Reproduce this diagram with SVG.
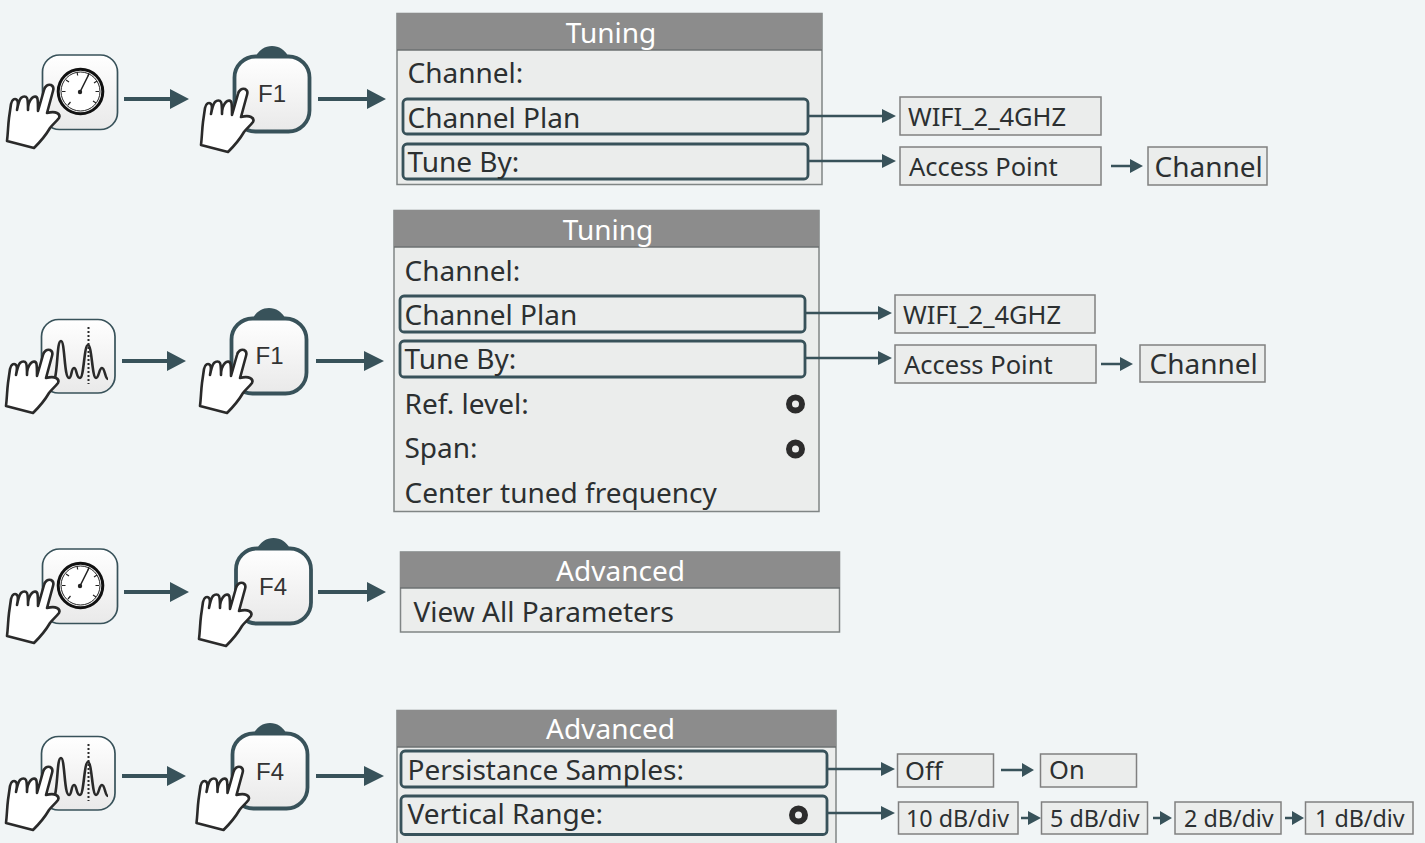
<svg xmlns="http://www.w3.org/2000/svg" width="1425" height="843" viewBox="0 0 1425 843">
<style>
text{font-family:"Noto Sans","Open Sans",sans-serif;fill:#2c3031}
.m{font-size:28px}
.h{font-size:28px;fill:#fff;text-anchor:middle}
.b{font-size:25.500px}
.d{font-size:23.300px}
.fk{font-family:"Liberation Sans",Arial,sans-serif;font-size:24px;text-anchor:middle;fill:#333}
.menu{fill:#ebedec;stroke:#808585;stroke-width:1.500}
.head{fill:#8c8c8c}
.hl{stroke:#6c7072;stroke-width:1.500}
.sel{fill:none;stroke:#38525a;stroke-width:2.800}
.box{fill:#ebedec;stroke:#808080;stroke-width:1.500}
.c{fill:none;stroke:#38525a;stroke-width:2.500}
.c4{fill:none;stroke:#38525a;stroke-width:4}
.ah{fill:#38525a}
.radio{fill:none;stroke:#2c2c2c;stroke-width:6}
.hand{fill:#fff;stroke:#2a2a2a;stroke-width:2.600;stroke-linejoin:round;stroke-linecap:round}
.icon{fill:url(#g);stroke:#38525a;stroke-width:1.700}
.key{fill:url(#g);stroke:#38525a;stroke-width:3.800}
</style>
<defs>
<linearGradient id="g" x1="0" y1="0" x2="0" y2="1"><stop offset="0" stop-color="#fff"/><stop offset="1" stop-color="#e9e9e9"/></linearGradient>
<path id="handp" class="hand" d="M7 141C8 133 8 126 9 118L11 104C12 99 15 98 17 100C18 101 18 105 17 110C18 105 19 100 21 98C23 96 26 96 27 98C28 100 28 105 28 110C28 105 30 100 32 98C34 96 37 96 37.500 99C38 102 38 106 38 111L44 90C45 86 48 84 51 85C53 86 54 88 53 91L47 113C51 112 55 112 57 113C59 114 60 116 59 118C56 122 52 125 50 128C46 135 40 142 34 148Z"/>
<g id="gauge">
<rect class="icon" x="42.500" y="55" width="75" height="74.500" rx="17"/>
<circle cx="80.500" cy="91.500" r="22.300" fill="#fff" stroke="#111" stroke-width="3"/>
<circle cx="80.500" cy="91.500" r="19.500" fill="none" stroke="#222" stroke-width="1"/>
<path d="M62 91.500h3.500M66 80l3 2M77 72l.7 3.500M89 73l-1 3M97 81l-3 2M99 91.500h-3.500M96 103l-3-2M68 105l2.500-3" fill="none" stroke="#222" stroke-width="1.200"/>
<path d="M80 92L88.500 75" stroke="#222" stroke-width="1.500"/>
<circle cx="80" cy="92" r="2.200" fill="#222"/>
</g>
<g id="spec">
<rect class="icon" x="41.500" y="319.500" width="73.500" height="73.500" rx="17"/>
<path d="M55 378C58 365 57 341 61 341C65 341 64 378 69 378C72 378 71 368 74 368C77 368 76 378 80 378C84 378 84 345 88 345C92 345 92 378 96 378C99 378 99 368 102 368C105 368 105 379 108 379" fill="none" stroke="#2a2a2a" stroke-width="2.600"/>
<path d="M88.500 327V384" fill="none" stroke="#2a2a2a" stroke-width="2" stroke-dasharray="2 2"/>
</g>
<g id="keyb">
<path d="M256 56C259 50 265 46 272 46C279 46 285 50 288 56Z" fill="#38525a"/>
<rect class="key" x="234.500" y="56.500" width="75" height="75" rx="21"/>
</g>
</defs>
<rect width="1425" height="843" fill="#f1f5f6"/>

<g id="row1-gauge"><use href="#gauge"/><use href="#handp"/></g>
<g id="row1-key"><use href="#keyb"/><text class="fk" x="272" y="102">F1</text><use href="#handp" x="194" y="4"/></g>
<g id="row2-spec"><use href="#spec"/><use href="#handp" x="-1" y="265"/></g>
<g id="row2-key"><use href="#keyb" x="-3" y="262"/><text class="fk" x="269.500" y="364">F1</text><use href="#handp" x="193" y="265"/></g>
<g id="row3-gauge"><use href="#gauge" y="494"/><use href="#handp" y="495"/></g>
<g id="row3-key"><use href="#keyb" x="1.500" y="492"/><text class="fk" x="273" y="595">F4</text><use href="#handp" x="192" y="498"/></g>
<g id="row4-spec"><use href="#spec" y="417"/><use href="#handp" x="-1" y="682"/></g>
<g id="row4-key"><use href="#keyb" x="-2" y="677"/><text class="fk" x="270" y="780">F4</text><use href="#handp" x="189.500" y="682"/></g>

<g id="menu-tuning-1">
<rect class="menu" x="397" y="13.500" width="425" height="171"/>
<rect class="head" x="397" y="13" width="425" height="37"/>
<path class="hl" d="M397 50H822"/>
<text class="h" x="611" y="43">Tuning</text>
<text class="m" x="407.500" y="83">Channel:</text>
<rect class="sel" x="403" y="99" width="405" height="35" rx="4"/>
<text class="m" x="407.500" y="128">Channel Plan</text>
<rect class="sel" x="403" y="144" width="405" height="35" rx="4"/>
<text class="m" x="407.500" y="172">Tune By:</text>
</g>
<g id="menu-tuning-2">
<rect class="menu" x="394" y="210.500" width="425" height="301"/>
<rect class="head" x="394" y="210" width="425" height="37"/>
<path class="hl" d="M394 247H819"/>
<text class="h" x="608" y="240">Tuning</text>
<text class="m" x="404.500" y="281">Channel:</text>
<rect class="sel" x="400" y="296" width="405" height="36" rx="4"/>
<text class="m" x="404.500" y="325">Channel Plan</text>
<rect class="sel" x="400" y="341" width="405" height="36" rx="4"/>
<text class="m" x="404.500" y="369">Tune By:</text>
<text class="m" x="404.500" y="414">Ref. level:</text>
<circle class="radio" cx="795.500" cy="404" r="6.500"/>
<text class="m" x="404.500" y="458">Span:</text>
<circle class="radio" cx="795.500" cy="449" r="6.500"/>
<text class="m" x="404.500" y="503">Center tuned frequency</text>
</g>
<g id="menu-advanced-1">
<rect class="menu" x="400.500" y="552" width="439" height="80"/>
<rect class="head" x="400" y="552" width="440" height="36"/>
<path class="hl" d="M400 588H840"/>
<text class="h" x="620.500" y="581">Advanced</text>
<text class="m" x="413.500" y="622">View All Parameters</text>
</g>
<g id="menu-advanced-2">
<rect class="menu" x="397" y="710.500" width="439" height="140"/>
<rect class="head" x="397" y="710" width="439" height="37"/>
<path class="hl" d="M397 747H836"/>
<text class="h" x="610.500" y="739">Advanced</text>
<rect class="sel" x="401" y="751" width="426" height="36" rx="4"/>
<text class="m" x="407.500" y="780">Persistance Samples:</text>
<rect class="sel" x="401" y="796" width="426" height="38.500" rx="4"/>
<text class="m" x="407.500" y="824">Vertical Range:</text>
<circle class="radio" cx="798.500" cy="815" r="6.500"/>
</g>

<g id="box-wifi-1"><rect class="box" x="900" y="97" width="201" height="38"/><text class="b" x="908" y="126">WIFI_2_4GHZ</text></g>
<g id="box-ap-1"><rect class="box" x="900" y="147" width="201" height="38"/><text class="b" x="909" y="176">Access Point</text></g>
<g id="box-ch-1"><rect class="box" x="1148" y="147" width="119" height="38"/><text class="m" x="1154.500" y="177">Channel</text></g>
<g id="box-wifi-2"><rect class="box" x="895" y="295" width="200" height="38"/><text class="b" x="903" y="324">WIFI_2_4GHZ</text></g>
<g id="box-ap-2"><rect class="box" x="895" y="345" width="201" height="38"/><text class="b" x="904" y="374">Access Point</text></g>
<g id="box-ch-2"><rect class="box" x="1140" y="345" width="125" height="37"/><text class="m" x="1149.500" y="374">Channel</text></g>
<g id="box-off"><rect class="box" x="897.500" y="754" width="96" height="33"/><text class="b" x="905" y="780">Off</text></g>
<g id="box-on"><rect class="box" x="1040.500" y="754" width="96" height="33"/><text class="b" x="1049" y="779">On</text></g>
<g id="box-10"><rect class="box" x="898.500" y="802" width="119.500" height="32"/><text class="d" x="906" y="827">10 dB/div</text></g>
<g id="box-5"><rect class="box" x="1041.500" y="802" width="106" height="32"/><text class="d" x="1050" y="827">5 dB/div</text></g>
<g id="box-2"><rect class="box" x="1175" y="802" width="106" height="32"/><text class="d" x="1184" y="827">2 dB/div</text></g>
<g id="box-1"><rect class="box" x="1305.500" y="802" width="107.500" height="32"/><text class="d" x="1315" y="827">1 dB/div</text></g>

<g id="connectors">
<path class="c4" d="M124 99H171M318 99H368M122 361H168M316 361H365M124 592H171M318 592H368M122 776H168M316 776H365"/>
<path class="ah" d="M170 89L189 99L170 109ZM367 89L386 99L367 109ZM167 351L186 361L167 371ZM364 351L384 361L364 371ZM170 582L189 592L170 602ZM367 582L386 592L367 602ZM167 766L186 776L167 786ZM364 766L384 776L364 786Z"/>
<path class="c" d="M808 116H884M808 161H884M1111 166H1132M805 313H880M805 358H880M1101 364H1122M827 769H883M1001 770H1024M827 813H883M1021 818H1030M1153 818H1162M1285 818H1294"/>
<path class="ah" d="M882 109L896 116L882 123ZM882 154L896 161L882 168ZM1130 159L1143 166L1130 173ZM878 306L892 313L878 320ZM878 351L892 358L878 365ZM1120 357L1133 364L1120 371ZM881 762L895 769L881 776ZM1022 763L1034 770L1022 777ZM881 806L895 813L881 820ZM1028 811L1041 818L1028 825ZM1160 811L1172 818L1160 825ZM1292 811L1304 818L1292 825Z"/>
</g>
</svg>
